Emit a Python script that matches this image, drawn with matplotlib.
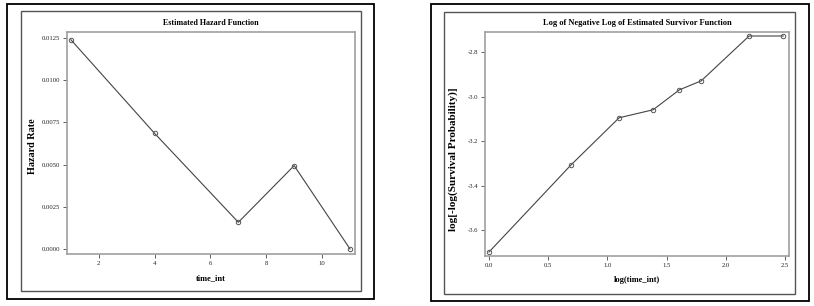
import matplotlib
matplotlib.use("Agg")
import matplotlib.pyplot as plt
from matplotlib.patches import Rectangle

# Hazard estimates by time interval
time_int = [1, 4, 7, 9, 11]
hazard_rate = [0.0124, 0.00685, 0.00158, 0.00494, 0.0]
hazard_yticks = [0.0, 0.0025, 0.005, 0.0075, 0.01, 0.0125]
hazard_xticks = [2, 4, 6, 8, 10]

# Log of negative log of survivor function vs log(time)
log_time = [0.0, 0.693, 1.099, 1.386, 1.609, 1.792, 2.197, 2.485]
loglog_surv = [-3.699, -3.307, -3.095, -3.059, -2.969, -2.929, -2.727, -2.727]
loglog_yticks = [-3.6, -3.4, -3.2, -3.0, -2.8]
loglog_xticks = [0.0, 0.5, 1.0, 1.5, 2.0, 2.5]

W, H = 814, 306
plt.rcParams["font.family"] = ["Liberation Serif", "DejaVu Serif"]
fig = plt.figure(figsize=(W / 100, H / 100), dpi=100)


def px_rect(x0, y0, x1, y1):
    return [x0 / W, 1 - y1 / H, (x1 - x0) / W, (y1 - y0) / H]


def frame(x0, y0, x1, y1, color, lw):
    l, b, w, h = px_rect(x0, y0, x1, y1)
    fig.add_artist(Rectangle((l, b), w, h, transform=fig.transFigure,
                             fill=False, edgecolor=color, linewidth=lw))


# panel borders
frame(7, 4, 374, 299, "black", 1.3)
frame(21, 11, 361, 291, "#555555", 1.0)
frame(431, 4, 809, 301, "black", 1.3)
frame(444, 12, 795, 294, "#555555", 1.0)

line_kw = dict(color="#444444", linewidth=0.8, marker="o", markersize=3.2,
               markerfacecolor="none", markeredgecolor="#555555",
               markeredgewidth=0.7)


def style(ax):
    for s in ax.spines.values():
        s.set_color("#a0a0a0")
        s.set_linewidth(1.2)
    ax.tick_params(axis="both", direction="out", length=3, width=0.6,
                   color="#444444", labelsize=4.8, labelcolor="#222222", pad=2)
    ax.tick_params(top=False, right=False)


ax1 = fig.add_axes(px_rect(67, 32, 355, 254))
ax1.plot(time_int, hazard_rate, **line_kw)
ax1.set_xlim(0.86, 11.18)
ax1.set_ylim(-0.0003, 0.01286)
ax1.set_xticks(hazard_xticks)
ax1.set_xticklabels([str(v) for v in hazard_xticks])
ax1.set_yticks(hazard_yticks)
ax1.set_yticklabels([f"{v:.4f}" for v in hazard_yticks])
style(ax1)
ax1.set_title("Estimated Hazard Function", fontsize=5.8, fontweight="bold", pad=5)
ax1.set_xlabel("time_int", fontsize=6, fontweight="bold", labelpad=6)
ax1.set_ylabel("Hazard Rate", fontsize=7.3, fontweight="bold")
ax1.yaxis.set_label_coords(-0.104, 0.485)

ax2 = fig.add_axes(px_rect(485, 32, 789, 256))
ax2.plot(log_time, loglog_surv, **line_kw)
ax2.set_xlim(-0.034, 2.534)
ax2.set_ylim(-3.717, -2.709)
ax2.set_xticks(loglog_xticks)
ax2.set_xticklabels([f"{v:.1f}" for v in loglog_xticks])
ax2.set_yticks(loglog_yticks)
ax2.set_yticklabels([f"{v:.1f}" for v in loglog_yticks])
style(ax2)
ax2.set_title("Log of Negative Log of Estimated Survivor Function", fontsize=6,
              fontweight="bold", pad=5)
ax2.set_xlabel("log(time_int)", fontsize=6, fontweight="bold", labelpad=6)
ax2.set_ylabel("log[-log(Survival Probability)]", fontsize=8,
               fontweight="bold")
ax2.yaxis.set_label_coords(-0.088, 0.43)

fig.savefig("out.png", dpi=100, facecolor="white")
